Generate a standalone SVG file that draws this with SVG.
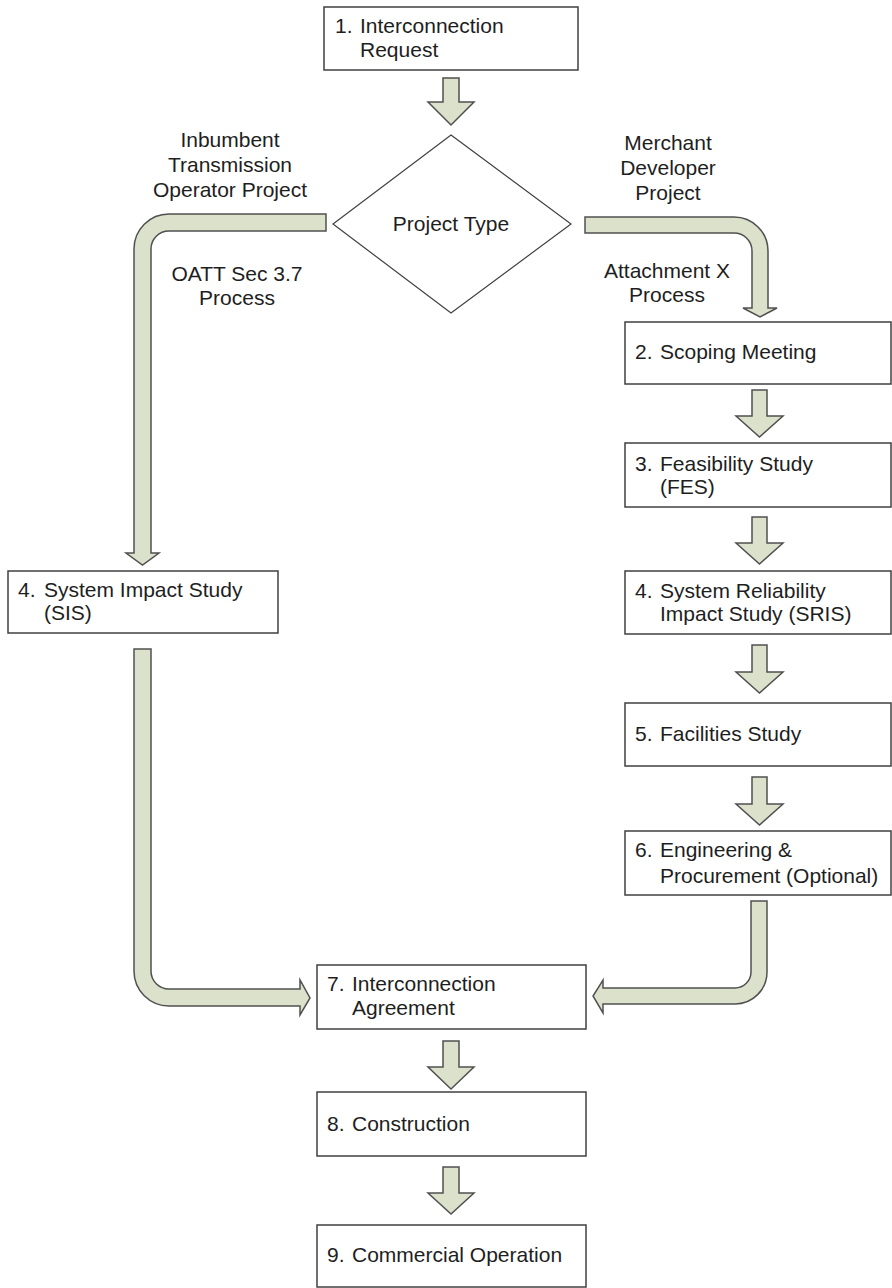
<svg xmlns="http://www.w3.org/2000/svg" width="892" height="1288" viewBox="0 0 892 1288">
<style>
.box{fill:#fff;stroke:#404040;stroke-width:1.5}
.arr{fill:#dce1cb;stroke:#505050;stroke-width:1.5;stroke-linejoin:miter}
text{font-family:"Liberation Sans",Arial,sans-serif;font-size:21px;fill:#1e1e1e}
.c{text-anchor:middle}
</style>
<rect width="892" height="1288" fill="#fff"/>
<g id="connectors">
<path class="arr" d="M443,78 H459 V102 H474 L451,125 L428,102 H443 Z"/>
<path class="arr" d="M326,214 H169 A35,35 0 0 0 134,249 V553 H126 L142.5,565 L159,553 H151 V249 A18,18 0 0 1 169,231 H326 Z"/>
<path class="arr" d="M585,217 H734 A34,34 0 0 1 768,251 V308 H777 L760,317 L743,308 H752 V251 A18,18 0 0 0 734,233 H585 Z"/>
<path class="arr" d="M752,390 H767 V416 H783 L759.5,437 L736,416 H752 Z"/>
<path class="arr" d="M752,517 H767 V543 H783 L759.5,564 L736,543 H752 Z"/>
<path class="arr" d="M752,645 H767 V672 H783 L759.5,693 L736,672 H752 Z"/>
<path class="arr" d="M752,777 H767 V804 H783 L759.5,825 L736,804 H752 Z"/>
<path class="arr" d="M134,649 H151 V971 A18,18 0 0 0 169,989 H300 V980 L310,998 L300,1015 V1006 H169 A35,35 0 0 1 134,971 Z"/>
<path class="arr" d="M751,901 H767 V972 A32,32 0 0 1 735,1004 H603 V1013 L593,996 L603,980 V988 H735 A16,16 0 0 0 751,972 Z"/>
<path class="arr" d="M443,1041 H459 V1067 H474 L451,1089 L428,1067 H443 Z"/>
<path class="arr" d="M443,1167 H459 V1193 H474 L451,1214 L428,1193 H443 Z"/>
</g>
<g id="labels">
<text class="c" x="230" y="147">Inbumbent</text>
<text class="c" x="230" y="172">Transmission</text>
<text class="c" x="230" y="197">Operator Project</text>
<text class="c" x="668" y="150">Merchant</text>
<text class="c" x="668" y="175">Developer</text>
<text class="c" x="668" y="200">Project</text>
<text class="c" x="237" y="281">OATT Sec 3.7</text>
<text class="c" x="237" y="305">Process</text>
<text class="c" x="667" y="278">Attachment X</text>
<text class="c" x="667" y="302">Process</text>
</g>
<g id="n1">
<rect class="box" x="324" y="7" width="254" height="63"/>
<text x="335" y="33">1.</text><text x="360" y="33">Interconnection</text>
<text x="360" y="57">Request</text>
</g>
<g id="decision">
<polygon points="451,135 571,224 451,313 333,224" fill="#fff" stroke="#404040" stroke-width="1.2"/>
<text class="c" x="451" y="231">Project Type</text>
</g>
<g id="n2">
<rect class="box" x="625" y="322" width="266" height="62"/>
<text x="635" y="359">2.</text><text x="660" y="359">Scoping Meeting</text>
</g>
<g id="n3">
<rect class="box" x="625" y="443" width="266" height="64"/>
<text x="635" y="471">3.</text><text x="660" y="471">Feasibility Study</text>
<text x="660" y="494">(FES)</text>
</g>
<g id="n4r">
<rect class="box" x="625" y="571" width="266" height="63"/>
<text x="635" y="598">4.</text><text x="660" y="598">System Reliability</text>
<text x="660" y="621">Impact Study (SRIS)</text>
</g>
<g id="n5">
<rect class="box" x="625" y="703" width="266" height="63"/>
<text x="635" y="741">5.</text><text x="660" y="741">Facilities Study</text>
</g>
<g id="n6">
<rect class="box" x="625" y="831" width="266" height="64"/>
<text x="635" y="857">6.</text><text x="660" y="857">Engineering &amp;</text>
<text x="660" y="883">Procurement (Optional)</text>
</g>
<g id="n4l">
<rect class="box" x="8" y="571" width="270" height="62"/>
<text x="18" y="597">4.</text><text x="44" y="597">System Impact Study</text>
<text x="44" y="620">(SIS)</text>
</g>
<g id="n7">
<rect class="box" x="317" y="965" width="269" height="64"/>
<text x="327" y="991">7.</text><text x="352" y="991">Interconnection</text>
<text x="352" y="1015">Agreement</text>
</g>
<g id="n8">
<rect class="box" x="317" y="1092" width="269" height="64"/>
<text x="327" y="1131">8.</text><text x="352" y="1131">Construction</text>
</g>
<g id="n9">
<rect class="box" x="317" y="1225" width="269" height="62"/>
<text x="327" y="1262">9.</text><text x="352" y="1262">Commercial Operation</text>
</g>
</svg>
